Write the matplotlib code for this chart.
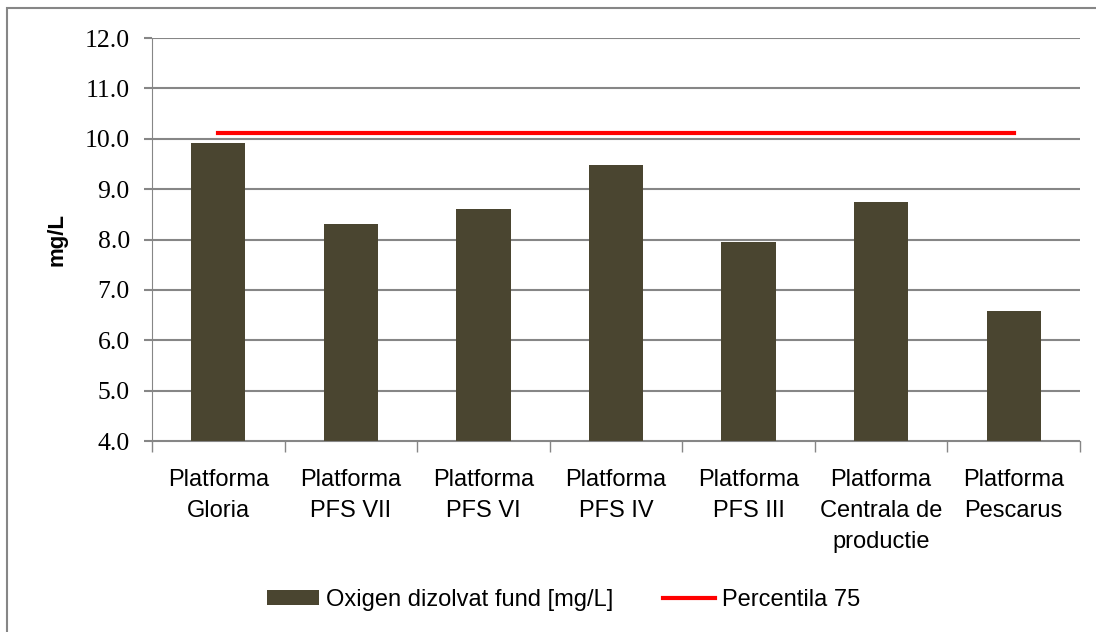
import numpy as np
import matplotlib.pyplot as plt
from matplotlib.patches import Rectangle

# data
categories = ['Platforma\nGloria', 'Platforma\nPFS VII', 'Platforma\nPFS VI', 'Platforma\nPFS IV',
              'Platforma\nPFS III', 'Platforma\nCentrala de\nproductie', 'Platforma\nPescarus']
oxigen = [9.92, 8.31, 8.61, 9.48, 7.95, 8.75, 6.58]
percentila75 = [10.12] * len(categories)

sans = ['Liberation Sans', 'DejaVu Sans']
grid_col = '#868686'

fig = plt.figure(figsize=(10.96, 6.32), dpi=100)
ax = fig.add_axes([152/1096, 1 - 441/632, (1080-152)/1096, (441-38)/632])

x = np.arange(len(categories))
bars = ax.bar(x, oxigen, width=0.41, color='#4A4530', zorder=2, label='Oxigen dizolvat fund [mg/L]')
line, = ax.plot(x, percentila75, color='#FF0000', lw=3, zorder=3, label='Percentila 75')

ax.set_xlim(-0.5, len(categories) - 0.5)
ax.set_ylim(4, 12)
ax.set_yticks(np.arange(4, 12.1, 1))
ax.set_yticklabels(['%.1f' % v for v in np.arange(4, 12.1, 1)],
                   family=['Liberation Serif', 'DejaVu Serif'], fontsize=18.5)
ax.yaxis.grid(True, color=grid_col, lw=1.5, zorder=0)
ax.set_axisbelow(True)

ax.set_xticks(x)
ax.set_xticklabels(categories, family=sans, fontsize=17, linespacing=1.55)
ax.set_xticks(np.arange(-0.5, len(categories)), minor=True)
ax.tick_params(axis='x', which='major', length=0, pad=20)
ax.tick_params(axis='x', which='minor', length=8, color=grid_col, width=1)
ax.tick_params(axis='y', length=6, color=grid_col, width=1.5, pad=10)

for s in ['top', 'right']:
    ax.spines[s].set_visible(False)
ax.spines['left'].set_color(grid_col)
ax.spines['bottom'].set_color(grid_col)

ax.set_ylabel('mg/L', fontsize=16, fontweight='bold', family=sans, labelpad=12)

ax.legend([bars, line], ['Oxigen dizolvat fund [mg/L]', 'Percentila 75'],
          loc='center', bbox_to_anchor=(0.444, -0.394), ncol=2, frameon=False,
          prop={'family': sans, 'size': 17}, handlelength=2.2, handleheight=0.65,
          columnspacing=2.1, handletextpad=0.3)

# outer chart border
fig.patches.append(Rectangle((7/1096, -0.1), 1.2, 1 - 8/632 + 0.1, transform=fig.transFigure,
                             fill=False, edgecolor=grid_col, lw=1.5))

fig.savefig('out.png', dpi=100)
